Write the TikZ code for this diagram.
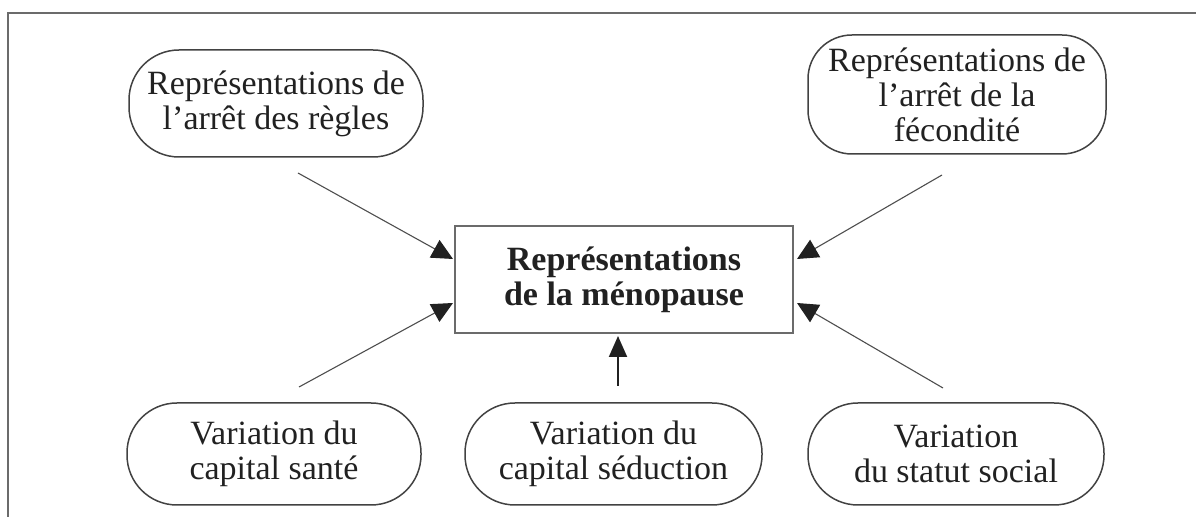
\documentclass[tikz,border=0pt]{standalone}
\usepackage{fontspec}
\setmainfont{Liberation Serif}
\usetikzlibrary{arrows.meta}
\definecolor{ink}{gray}{0.13}
\definecolor{frame}{gray}{0.42}
\begin{document}
\begin{tikzpicture}[x=0.5pt,y=-0.5pt,
  pill/.style={draw=ink!85, line width=0.75pt, rounded corners=25pt, align=center,
    inner sep=0pt, minimum width=147pt, minimum height=51pt, text=ink,
    font=\fontsize{17}{17.5}\selectfont},
  centerbox/.style={draw=frame, line width=0.9pt, align=center, inner sep=0pt,
    minimum width=169pt, minimum height=53.5pt, text=ink,
    font=\fontsize{17}{17.5}\selectfont\bfseries},
  arr/.style={draw=ink!80, line width=0.55pt, -{Triangle[length=10.5pt,width=10pt,color=ink]}},
  arrv/.style={draw=ink, line width=1pt, -{Triangle[length=10.5pt,width=9pt]}}
]
\useasboundingbox (0,0) rectangle (1196,517);
\draw[frame, line width=0.8pt] (8,517) -- (8,13) -- (1196,13);

\node[centerbox] (c) at (624,279.5) {Représentations\\de la ménopause};
\node[pill, minimum width=147pt, minimum height=53.5pt] (tl) at (276,103.5) {Représentations de\\l’arrêt des règles};
\node[pill, minimum width=149pt, minimum height=59.5pt, rounded corners=22pt] (tr) at (957,94.5) {Représentations de\\l’arrêt de la\\fécondité};
\node[pill] (bl) at (274,454) {Variation du\\capital santé};
\node[pill, minimum width=148.5pt] (bm) at (613.5,454) {Variation du\\capital séduction};
\node[pill, minimum width=148pt] (br) at (956,454) {Variation\\du statut social};

\coordinate (s1) at (298,173);  \coordinate (t1) at (453,259);
\coordinate (s2) at (299,387);  \coordinate (t2) at (453,303);
\coordinate (s3) at (942,175);  \coordinate (t3) at (797,259);
\coordinate (s4) at (943,388);  \coordinate (t4) at (797,303);
\coordinate (s5) at (618,386);  \coordinate (t5) at (618,336);

\draw[arr] (s1) -- (t1);
\draw[arr] (s2) -- (t2);
\draw[arr] (s3) -- (t3);
\draw[arr] (s4) -- (t4);
\draw[arrv] (s5) -- (t5);
\end{tikzpicture}
\end{document}
